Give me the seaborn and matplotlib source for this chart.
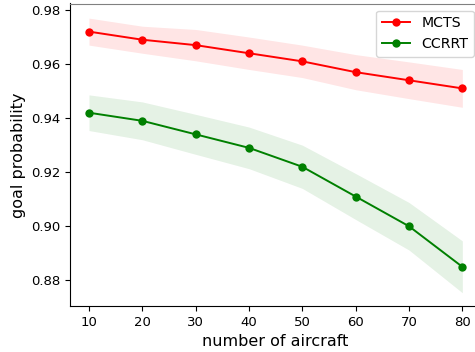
import numpy as np
import pandas as pd
import matplotlib
matplotlib.use("Agg")
import matplotlib.pyplot as plt
import seaborn as sns

aircraft = [10, 20, 30, 40, 50, 60, 70, 80]
mcts_mean = [0.972, 0.969, 0.967, 0.964, 0.961, 0.957, 0.954, 0.951]
mcts_std = [0.005, 0.005, 0.0058, 0.006, 0.006, 0.0065, 0.0068, 0.007]
ccrrt_mean = [0.942, 0.939, 0.934, 0.929, 0.922, 0.911, 0.900, 0.885]
ccrrt_std = [0.0066, 0.007, 0.0074, 0.0077, 0.008, 0.0085, 0.0088, 0.0096]

series = [("MCTS", mcts_mean, mcts_std, "red"),
          ("CCRRT", ccrrt_mean, ccrrt_std, "green")]

W, H = 475, 352
fig = plt.figure(figsize=(W / 100, H / 100), dpi=100)
ax = fig.add_axes([70.3 / W, (H - 306) / H, (481 - 70.3) / W, (306 - 3.5) / H])

for name, mean, std, color in series:
    df = pd.DataFrame({"x": aircraft, "y": mean})
    sns.lineplot(data=df, x="x", y="y", ax=ax, color=color, marker="o",
                 markersize=6, markeredgewidth=0, linewidth=1.4, label=name)
    lo = np.array(mean) - np.array(std)
    hi = np.array(mean) + np.array(std)
    ax.fill_between(aircraft, lo, hi, color=color, alpha=0.1, linewidth=0)

ax.set_xlabel("number of aircraft", fontsize=11.5)
ax.set_ylabel("goal probability", fontsize=11.5)
ax.tick_params(labelsize=9.5)
ax.set_xticks(aircraft)
ax.set_yticks([0.88, 0.90, 0.92, 0.94, 0.96, 0.98])
ax.set_ylim(0.8705, 0.9824)
ax.set_xlim(6.5, 83.5)
ax.legend(loc="upper right", fontsize=10.2)
ax.spines["top"].set_color("#808080")

fig.savefig("out.png", dpi=100)
